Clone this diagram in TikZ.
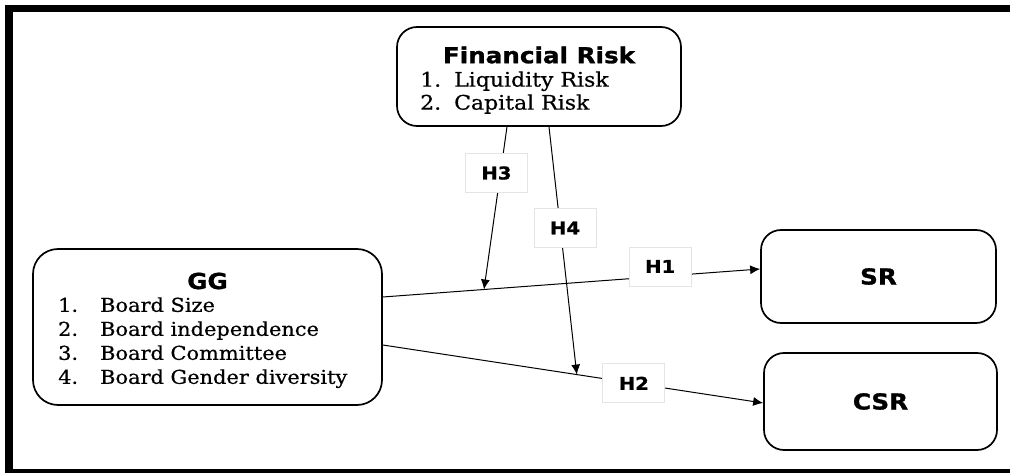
\documentclass[tikz,border=0pt]{standalone}
\usepackage{fontspec}
\setmainfont{DejaVu Serif}[FakeStretch=1.1,FakeBold=0.6]
\newfontfamily\headfont{DejaVu Sans}[FakeStretch=1.12,FakeBold=1.2]
\usepackage{tikz}
\usetikzlibrary{arrows.meta,calc,positioning}
\definecolor{lblgray}{RGB}{228,228,228}

\tikzset{
  varbox/.style={draw,line width=1.7pt,rounded corners=20pt,inner sep=0pt},
  varhead/.style={font=\headfont\bfseries\fontsize{22}{26}\selectfont},
  hyplab/.style={draw=lblgray,line width=0.8pt,fill=white,minimum width=62pt,
     minimum height=39pt,inner sep=0pt,font=\headfont\bfseries\fontsize{17.5}{20}\selectfont},
  link/.style={-{Latex[length=10pt,width=9pt]},line width=1pt}
}

\begin{document}
\begin{tikzpicture}[x=1pt,y=-1pt]
\useasboundingbox (0,0) rectangle (1010,473);
\fill[white] (-5,-5) rectangle (1020,480);
% frame
\fill (5,5) rectangle (1015,12.5);
\fill (5,5) rectangle (13,478);
\fill (5,469) rectangle (1015,478);

% variable boxes
\node[varbox,minimum width=284pt,minimum height=99pt] (fr) at (539,76.5) {};
\node[varbox,rounded corners=25pt,minimum width=349pt,minimum height=156pt] (gg) at (207.5,327) {};
\node[varbox,varhead,minimum width=235pt,minimum height=93pt] (sr) at (878.5,276.5) {SR};
\node[varbox,varhead,minimum width=233pt,minimum height=97pt] (csr) at (880.5,401.5) {CSR};

% texts inside the boxes
\node[varhead] (frhead) at (539,55) {Financial Risk};
\node[anchor=west,inner sep=0pt,font=\fontsize{20}{23}\selectfont] (frlist) at (420,93.5)
  {\begin{tabular}{@{}l@{\hspace{13pt}}l@{}}1. & Liquidity Risk\\ 2. & Capital Risk\end{tabular}};
\node[varhead] (gghead) at (207.5,281) {GG};
\node[anchor=west,inner sep=0pt,font=\fontsize{19}{24}\selectfont] (gglist) at (58,343)
  {\begin{tabular}{@{}l@{\hspace{22pt}}l@{}}1. & Board Size\\ 2. & Board independence\\
   3. & Board Committee\\ 4. & Board Gender diversity\end{tabular}};

% connector ends
\coordinate (h1s) at ($(gg.east)+(0,-30)$);
\coordinate (h1e) at ($(sr.west)+(0,-7.5)$);
\coordinate (h2s) at ($(gg.east)+(0,18)$);
\coordinate (h2e) at ($(csr.west)+(0,1.5)$);
\coordinate (h3s) at ($(fr.south)+(-32,0)$);
\coordinate (h3e) at ($(h1s)!0.268!(h1e)$);
\coordinate (h4s) at ($(fr.south)+(10,0)$);
\coordinate (h4e) at ($(h2s)!0.51!(h2e)$);

% hypotheses
\draw[link] (h1s) -- node[hyplab,pos=0.735,yshift=10pt] (lh1) {H1} (h1e);
\draw[link] (h2s) -- node[hyplab,pos=0.66] (lh2) {H2} (h2e);
\draw[link] (h3s) -- node[hyplab,pos=0.284,xshift=-4pt] (lh3) {H3} (h3e);
\draw[link] (h4s) -- node[hyplab,pos=0.408,xshift=4.7pt] (lh4) {H4} (h4e);
\end{tikzpicture}
\end{document}
